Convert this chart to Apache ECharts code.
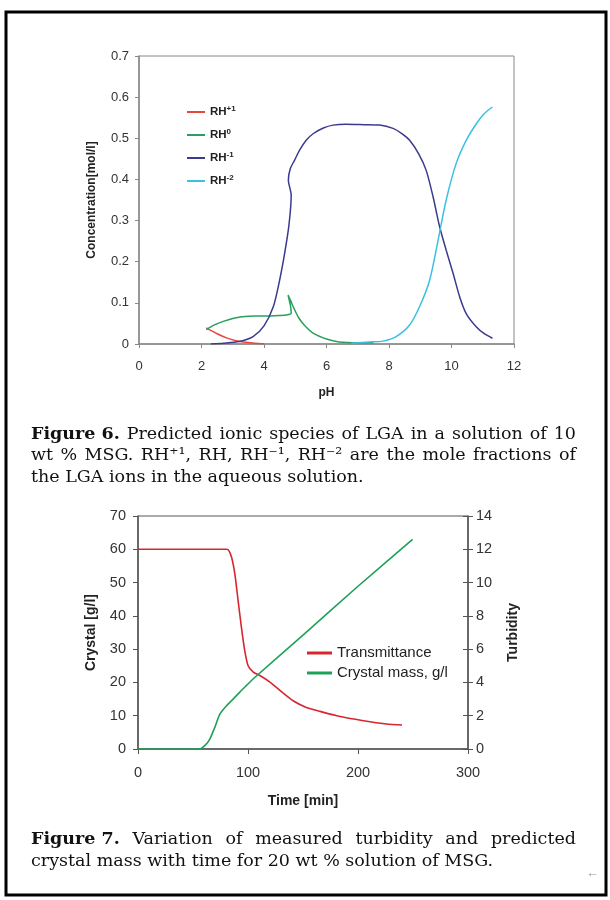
<!DOCTYPE html>
<html>
<head>
<meta charset="utf-8">
<script src="https://cdn.jsdelivr.net/npm/echarts@6/dist/echarts.min.js"></script>
<style>
html,body{margin:0;padding:0;background:#fff;}
#c{width:610px;height:900px;}
</style>
</head>
<body>
<div id="c"></div>
<script>
// ---------- Figure 6 data (pH, concentration mol/l) ----------
const phTicks = [0, 2, 4, 6, 8, 10, 12];
const concTicks = [0, 0.1, 0.2, 0.3, 0.4, 0.5, 0.6, 0.7];
const speciesNames = ['RH+1', 'RH0', 'RH-1', 'RH-2'];
const rhPlus1 = [[2.15,0.039],[2.5,0.025],[2.8,0.015],[3.1,0.008],[3.4,0.004],[3.7,0.002],[4.0,0.0005]];
const rh0 = [[2.15,0.035],[2.4,0.046],[2.7,0.055],[3.0,0.062],[3.3,0.066],[3.7,0.068],[4.2,0.068],[4.5,0.069],[4.75,0.071],[4.87,0.075],[4.85,0.092],[4.77,0.119],[4.85,0.106],[4.95,0.088],[5.1,0.065],[5.3,0.045],[5.6,0.025],[6.0,0.012],[6.4,0.005],[7.0,0.003],[7.5,0.003]];
const rhMinus1 = [[2.3,0.0],[2.7,0.002],[3.2,0.006],[3.65,0.018],[4.0,0.044],[4.3,0.091],[4.5,0.155],[4.66,0.22],[4.8,0.29],[4.87,0.362],[4.78,0.398],[4.84,0.426],[4.98,0.447],[5.14,0.471],[5.35,0.495],[5.57,0.511],[5.9,0.525],[6.21,0.532],[6.63,0.534],[7.2,0.533],[7.7,0.532],[8.13,0.524],[8.4,0.512],[8.66,0.495],[8.95,0.462],[9.19,0.422],[9.41,0.358],[9.62,0.285],[9.83,0.228],[10.05,0.172],[10.26,0.115],[10.47,0.074],[10.79,0.042],[11.05,0.025],[11.31,0.014]];
const rhMinus2 = [[6.8,0.002],[7.38,0.005],[7.81,0.007],[8.23,0.018],[8.66,0.046],[8.98,0.091],[9.3,0.155],[9.57,0.252],[9.83,0.35],[10.15,0.439],[10.47,0.495],[10.8,0.536],[11.05,0.56],[11.31,0.576]];

// ---------- Figure 7 data (time min) ----------
const timeTicks = [0, 100, 200, 300];
const crystalTicks = [0, 10, 20, 30, 40, 50, 60, 70];
const turbidityTicks = [0, 2, 4, 6, 8, 10, 12, 14];
const transmittance = [[0,12],[40,12],[80,12],[82,11.98],[85,11.54],[88,10.54],[91,8.92],[94,7.32],[97,5.92],[100,5.02],[104.8,4.62],[110.8,4.42],[120,4.02],[129,3.52],[141,2.9],[153,2.5],[165.5,2.26],[180.7,2.0],[196,1.8],[211,1.64],[226,1.5],[240,1.44]];
const crystalMass = [[0,0],[56,0],[60.7,1.0],[65.3,3.0],[69.8,6.5],[74.4,10.5],[80.5,13.0],[86.5,15.0],[92.6,17.1],[98.7,19.1],[104.8,21.1],[150,34.2],[200,48.9],[249.6,63.0]];

// ---------- captions ----------
const cap6 = [
  [['Figure 6.', true], 'Predicted','ionic','species','of','LGA','in','a','solution','of','10'],
  ['wt','%','MSG.','RH\u207A\u00B9,','RH,','RH\u207B\u00B9,','RH\u207B\u00B2','are','the','mole','fractions','of'],
  'the LGA ions in the aqueous solution.'
];
const cap7 = [
  [['Figure 7.', true], 'Variation','of','measured','turbidity','and','predicted'],
  'crystal mass with time for 20 wt % solution of MSG.'
];

const SERIF = '"DejaVu Serif", "Liberation Serif", serif';
const SANS = '"Liberation Sans", Arial, sans-serif';
const CAP_SIZE = 17.5;
const measureCtx = document.createElement('canvas').getContext('2d');
function mw(t, bold) {
  measureCtx.font = (bold ? 'bold ' : '') + CAP_SIZE + 'px ' + SERIF;
  return measureCtx.measureText(t).width;
}
function captionLine(line, x0, x1, y) {
  const els = [];
  if (typeof line === 'string') {
    els.push({type:'text', style:{text: line, x: x0, y: y, fontSize: CAP_SIZE, fontFamily: SERIF, fill:'#111', textVerticalAlign:'middle'}});
    return els;
  }
  const toks = line.map(t => Array.isArray(t) ? {t: t[0], b: t[1]} : {t: t, b: false});
  const widths = toks.map(k => mw(k.t, k.b));
  const total = widths.reduce((a, b) => a + b, 0);
  const gap = (x1 - x0 - total) / (toks.length - 1);
  let x = x0;
  toks.forEach((k, i) => {
    els.push({type:'text', style:{text: k.t, x: x, y: y, fontSize: CAP_SIZE, fontFamily: SERIF, fontWeight: k.b ? 'bold' : 'normal', fill:'#111', textVerticalAlign:'middle'}});
    x += widths[i] + gap;
  });
  return els;
}

const graphics = [
  {type:'rect', shape:{x:6, y:12, width:600, height:883}, style:{fill:'none', stroke:'#000', lineWidth:3}, z:10},
  {type:'text', style:{text:'\u2190', x:586, y:873, fontSize:13, fontFamily:SANS, fill:'#999', textVerticalAlign:'middle'}}
];
[434, 455.5, 477].forEach((y, i) => graphics.push(...captionLine(cap6[i], 31, 576, y)));
[839, 861].forEach((y, i) => graphics.push(...captionLine(cap7[i], 31, 576, y)));

const chart = echarts.init(document.getElementById('c'), null, {renderer:'canvas'});
const axisGrey1 = '#888';
const axisGrey2 = '#555';
const lbl1 = {color:'#333', fontSize:13, fontFamily:SANS};
const lbl2 = {color:'#333', fontSize:14.5, fontFamily:SANS};

function toSeries(arr) { return arr.map(p => [p[0], p[1]]); }

const option = {
  backgroundColor:'#fff',
  animation:false,
  graphic: graphics,
  grid: [
    {left:139, top:56, width:375, height:288, show:true, borderColor:axisGrey1, borderWidth:1, backgroundColor:'transparent'},
    {left:138, top:516, width:330, height:233, show:true, borderColor:axisGrey2, borderWidth:1, backgroundColor:'transparent'}
  ],
  legend: [
    {
      data: speciesNames,
      orient:'vertical', left:182, top:100, itemWidth:18, itemHeight:2, itemGap:10,
      icon:'rect',
      formatter: function(name){ return '{b|RH}{s|' + name.slice(2) + '}'; },
      textStyle:{
        rich:{
          b:{fontSize:11.5, fontWeight:'bold', color:'#222', fontFamily:SANS},
          s:{fontSize:8, fontWeight:'bold', color:'#222', fontFamily:SANS, padding:[0,0,6,0]}
        }
      }
    },
    {
      data:['Transmittance', 'Crystal mass, g/l'],
      orient:'vertical', left:302, top:640, itemWidth:25, itemHeight:3, itemGap:4,
      icon:'rect',
      textStyle:{fontSize:15, color:'#222', fontFamily:SANS, lineHeight:16}
    }
  ],
  xAxis: [
    {
      gridIndex:0, type:'value', min:phTicks[0], max:phTicks[phTicks.length-1], interval:phTicks[1]-phTicks[0],
      name:'pH', nameLocation:'middle', nameGap:43,
      nameTextStyle:{fontSize:12, fontWeight:'bold', color:'#222', fontFamily:SANS},
      axisLine:{show:true, lineStyle:{color:axisGrey1, width:1.5}},
      axisTick:{show:true, inside:false, length:4, lineStyle:{color:axisGrey1}},
      axisLabel:{...lbl1, margin:16},
      splitLine:{show:false}
    },
    {
      gridIndex:1, type:'value', min:timeTicks[0], max:timeTicks[timeTicks.length-1], interval:timeTicks[1]-timeTicks[0],
      name:'Time [min]', nameLocation:'middle', nameGap:45,
      nameTextStyle:{fontSize:14, fontWeight:'bold', color:'#222', fontFamily:SANS},
      axisLine:{show:true, lineStyle:{color:axisGrey2, width:1.5}},
      axisTick:{show:true, inside:false, length:5, lineStyle:{color:axisGrey2}},
      axisLabel:{...lbl2, margin:16},
      splitLine:{show:false}
    }
  ],
  yAxis: [
    {
      gridIndex:0, type:'value', min:concTicks[0], max:concTicks[concTicks.length-1], interval:0.1,
      name:'Concentration[mol/l]', nameLocation:'middle', nameGap:41,
      nameTextStyle:{fontSize:12, fontWeight:'bold', color:'#222', fontFamily:SANS},
      axisLine:{show:true, lineStyle:{color:axisGrey1, width:1.5}},
      axisTick:{show:true, inside:false, length:4, lineStyle:{color:axisGrey1}},
      axisLabel:{...lbl1, margin:10, formatter: v => String(Math.round(v*10)/10)},
      splitLine:{show:false}
    },
    {
      gridIndex:1, type:'value', min:crystalTicks[0], max:crystalTicks[crystalTicks.length-1], interval:10,
      name:'Crystal [g/l]', nameLocation:'middle', nameGap:40,
      nameTextStyle:{fontSize:14, fontWeight:'bold', color:'#222', fontFamily:SANS},
      axisLine:{show:true, lineStyle:{color:axisGrey2, width:1.5}},
      axisTick:{show:true, inside:false, length:5, lineStyle:{color:axisGrey2}},
      axisLabel:{...lbl2, margin:12},
      splitLine:{show:false}
    },
    {
      gridIndex:1, type:'value', position:'right', min:turbidityTicks[0], max:turbidityTicks[turbidityTicks.length-1], interval:2,
      name:'Turbidity', nameLocation:'middle', nameGap:38, nameRotate:90,
      nameTextStyle:{fontSize:14, fontWeight:'bold', color:'#222', fontFamily:SANS},
      axisLine:{show:true, lineStyle:{color:axisGrey2, width:1.5}},
      axisTick:{show:true, inside:false, length:5, lineStyle:{color:axisGrey2}},
      axisLabel:{...lbl2, margin:8},
      splitLine:{show:false}
    },
    {
      gridIndex:1, type:'value', position:'right', min:turbidityTicks[0], max:turbidityTicks[turbidityTicks.length-1], interval:2,
      axisLine:{show:false},
      axisTick:{show:true, inside:true, length:5, lineStyle:{color:axisGrey2}},
      axisLabel:{show:false},
      splitLine:{show:false}
    }
  ],
  series: [
    {name:'RH+1', type:'line', xAxisIndex:0, yAxisIndex:0, data:toSeries(rhPlus1), showSymbol:false, smooth:0.3, lineStyle:{width:1.5, color:'#e8453c'}, itemStyle:{color:'#e8453c'}},
    {name:'RH0', type:'line', xAxisIndex:0, yAxisIndex:0, data:toSeries(rh0), showSymbol:false, smooth:0.2, lineStyle:{width:1.5, color:'#2aa05e'}, itemStyle:{color:'#2aa05e'}},
    {name:'RH-1', type:'line', xAxisIndex:0, yAxisIndex:0, data:toSeries(rhMinus1), showSymbol:false, smooth:0.25, lineStyle:{width:1.5, color:'#3b3a8e'}, itemStyle:{color:'#3b3a8e'}},
    {name:'RH-2', type:'line', xAxisIndex:0, yAxisIndex:0, data:toSeries(rhMinus2), showSymbol:false, smooth:0.3, lineStyle:{width:1.5, color:'#3cc0e0'}, itemStyle:{color:'#3cc0e0'}},
    {name:'Transmittance', type:'line', xAxisIndex:1, yAxisIndex:2, data:toSeries(transmittance), showSymbol:false, smooth:0.2, lineStyle:{width:1.6, color:'#d8262e'}, itemStyle:{color:'#d8262e'}},
    {name:'Crystal mass, g/l', type:'line', xAxisIndex:1, yAxisIndex:1, data:toSeries(crystalMass), showSymbol:false, smooth:0.2, lineStyle:{width:1.6, color:'#1fa05a'}, itemStyle:{color:'#1fa05a'}}
  ]
};
chart.setOption(option);
</script>
</body>
</html>
